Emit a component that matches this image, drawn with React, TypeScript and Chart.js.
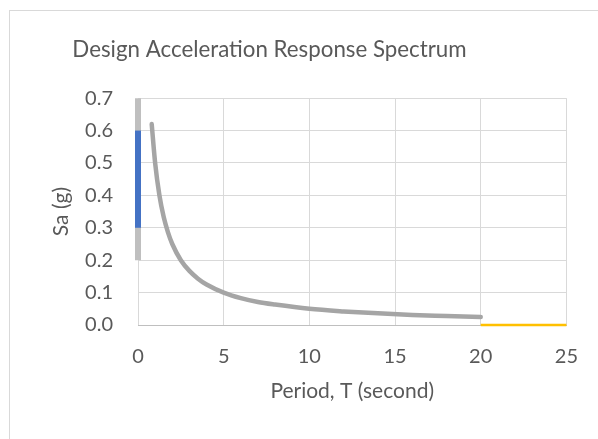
import React, { useEffect, useRef } from "react";
import { Chart, registerables } from "chart.js";

Chart.register(...registerables);

const titleText = "Design Acceleration Response Spectrum";
const xTitle = "Period, T (second)";
const yTitle = "Sa (g)";

// Main spectrum curve (gray)
const periods = [0.8, 1.0, 1.25, 1.5, 1.75, 2.0, 2.5, 3.0, 3.5, 4.0, 5.0, 6.0, 7.0, 8.0, 10.0, 12.0, 14.0, 16.0, 18.0, 20.0];
const saValues = [0.62, 0.5, 0.4, 0.333, 0.286, 0.25, 0.2, 0.167, 0.143, 0.125, 0.1, 0.083, 0.071, 0.063, 0.05, 0.042, 0.036, 0.031, 0.028, 0.025];

// Vertical bar at T = 0 (gray outer, blue inner)
const barGrayT = [0, 0];
const barGraySa = [0.2, 0.7];
const barBlueT = [0, 0];
const barBlueSa = [0.3, 0.6];

// Tail at zero (yellow)
const tailT = [20, 25];
const tailSa = [0, 0];

const xMin = 0;
const xMax = 25;
const xStep = 5;
const yMin = 0;
const yMax = 0.7;
const yStep = 0.1;

const pts = (xs: number[], ys: number[]) => xs.map((x, i) => ({ x, y: ys[i] }));

export default function App() {
  const ref = useRef<HTMLCanvasElement>(null);
  useEffect(() => {
    if (!ref.current) return;
    const font = "Lato, 'Open Sans', sans-serif";
    const chart = new Chart(ref.current, {
      type: "scatter",
      data: {
        datasets: [
          {
            data: pts(barBlueT, barBlueSa),
            showLine: true,
            borderColor: "#4472c4",
            borderWidth: 6,
            pointRadius: 0,
            clip: false as any,
            borderCapStyle: "butt",
          },
          {
            data: pts(barGrayT, barGraySa),
            showLine: true,
            borderColor: "#bfbfbf",
            borderWidth: 6,
            pointRadius: 0,
            clip: false as any,
            borderCapStyle: "butt",
          },
          {
            data: pts(periods, saValues),
            showLine: true,
            borderColor: "#a5a5a5",
            borderWidth: 4.5,
            pointRadius: 0,
            cubicInterpolationMode: "monotone",
            clip: false as any,
            borderCapStyle: "round",
          },
          {
            data: pts(tailT, tailSa),
            showLine: true,
            borderColor: "#ffc000",
            borderWidth: 2.5,
            pointRadius: 0,
            clip: false as any,
          },
        ],
      },
      options: {
        animation: false,
        responsive: false,
        devicePixelRatio: 1,
        layout: { padding: { left: 0, right: 27, top: 0, bottom: 0 } },
        plugins: {
          legend: { display: false },
          tooltip: { enabled: false },
          title: {
            display: true,
            text: titleText,
            color: "#595959",
            font: { family: font, size: 22.3, weight: "normal" },
            padding: { top: 36.8, bottom: 34.6 },
          },
        },
        scales: {
          x: {
            type: "linear",
            min: xMin,
            max: xMax,
            ticks: {
              stepSize: xStep,
              color: "#595959",
              font: { family: font, size: 20 },
              padding: 20,
            },
            grid: { color: "#d9d9d9", drawTicks: false, lineWidth: 1 },
            border: { color: "#bfbfbf", width: 1 },
            title: {
              display: true,
              text: xTitle,
              color: "#595959",
              font: { family: font, size: 21 },
              padding: { top: 0, bottom: 35.4 },
            },
            afterFit: (s: any) => {
              s.height = 114;
            },
          },
          y: {
            type: "linear",
            min: yMin,
            max: yMax,
            ticks: {
              stepSize: yStep,
              color: "#595959",
              font: { family: font, size: 20 },
              padding: 25,
              callback: (v: any) => Number(v).toFixed(1),
            },
            grid: { color: "#d9d9d9", drawTicks: false, lineWidth: 1 },
            border: { display: false },
            title: {
              display: true,
              text: yTitle,
              color: "#595959",
              font: { family: font, size: 21 },
              padding: { top: 80.4, bottom: 0 },
            },
            afterFit: (s: any) => {
              s.width = 170;
            },
          },
        },
      },
    });
    return () => chart.destroy();
  }, []);
  return (
    <div style={{ position: "fixed", left: 0, top: 0, width: 598, height: 439, background: "#fff", overflow: "hidden" }}>
      <div
        style={{
          position: "absolute",
          left: 9,
          top: 10,
          width: 600,
          height: 440,
          border: "1px solid #d9d9d9",
          boxSizing: "border-box",
        }}
      />
      <canvas ref={ref} width={630} height={439} style={{ position: "absolute", left: -32, top: 0, width: 630, height: 439 }} />
    </div>
  );
}
